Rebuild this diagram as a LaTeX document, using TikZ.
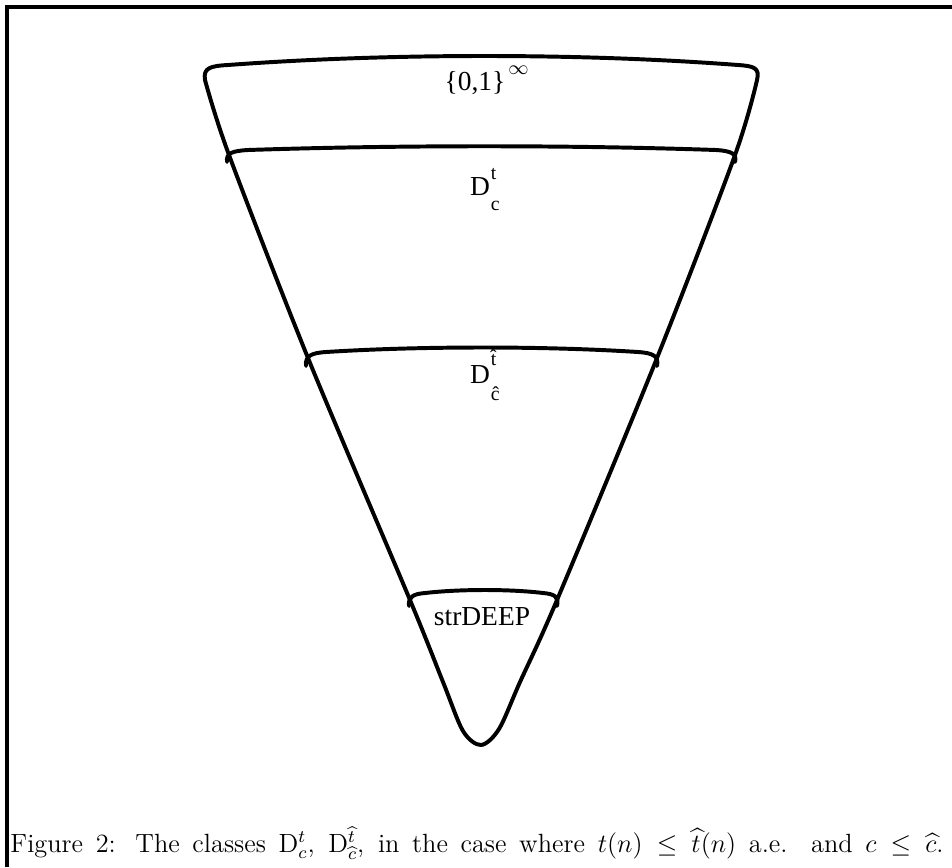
\documentclass[tikz,border=0pt]{standalone}
\usepackage{amsmath}
\usepackage{fontspec}
\newfontfamily\figfont{Liberation Serif}

\begin{document}
\begin{tikzpicture}[
  x=0.016cm,
  y=-0.016cm,
  rim/.style={line width=1.8pt,line join=round,line cap=round},
  frame/.style={line width=1.4pt},
  classname/.style={font=\figfont\fontsize{12.5}{15}\selectfont,inner sep=0pt},
  script/.style={font=\figfont\fontsize{9}{11}\selectfont,inner sep=0pt}
]
  \useasboundingbox (0,0) rectangle (952,867);

  % Page frame, cut at the right and bottom.
  \draw[frame] (7,867) -- (7,7) -- (952,7);

  % Outer cone: top rim, right side, rounded tip, left side.
  \draw[rim] (205,80) .. controls (203,68) and (210,66) .. (228,65)
    .. controls (390,53) and (580,53) .. (738,65)
    .. controls (754,66) and (760,68) .. (757,80)
    -- plot[smooth] coordinates {(757,80) (735,155) (657,358) (557,600)
      (520,682) (499,729) (481,745) (463,731) (443,682) (410,600)
      (308,358) (229,155) (205,80)};

  % Class boundaries inside the cone.
  \draw[rim] (227,162) .. controls (226,153) and (232,151) .. (248,150)
    .. controls (400,145) and (570,145) .. (716,150)
    .. controls (732,151) and (737,154) .. (735,162);
  \draw[rim] (306,366) .. controls (305,356) and (311,353) .. (326,352)
    .. controls (420,346) and (545,346) .. (638,352)
    .. controls (653,353) and (659,356) .. (657,366);
  \draw[rim] (409,606) .. controls (408,597) and (413,594) .. (425,593)
    .. controls (460,589) and (510,589) .. (543,593)
    .. controls (555,594) and (559,597) .. (557,606);

  % Class names.
  \node[classname,anchor=base] (all) at (475,90) {\{0,1\}};
  \node[script,anchor=base west] (allsup) at (all.base east) [yshift=7pt,xshift=1pt] {$\infty$};

  \node[classname,anchor=base] (dtc) at (480,195) {D};
  \node[script,anchor=base west] (dtcsup) at (dtc.base east) [yshift=7pt] {t};
  \node[script,anchor=base west] (dtcsub) at (dtc.base east) [yshift=-7pt] {c};

  \node[classname,anchor=base] (dhat) at (480,383) {D};
  \node[script,anchor=base west] (dhatsup) at (dhat.base east) [yshift=8pt] {\^t};
  \node[script,anchor=base west] (dhatsub) at (dhat.base east) [yshift=-8pt] {\^c};

  \node[classname,anchor=base] (deep) at (482,625) {strDEEP};

  % Caption.
  \node[anchor=base west,inner sep=0pt,font=\fontsize{12}{14}\selectfont] (caption) at (10,852) {\makebox[425pt][s]{Figure 2: The classes D$^t_c$, D$^{\widehat{t}}_{\widehat{c}}$, in the case where $t(n)\le\widehat{t}(n)$ a.e. and $c\le\widehat{c}$.}};
\end{tikzpicture}
\end{document}
